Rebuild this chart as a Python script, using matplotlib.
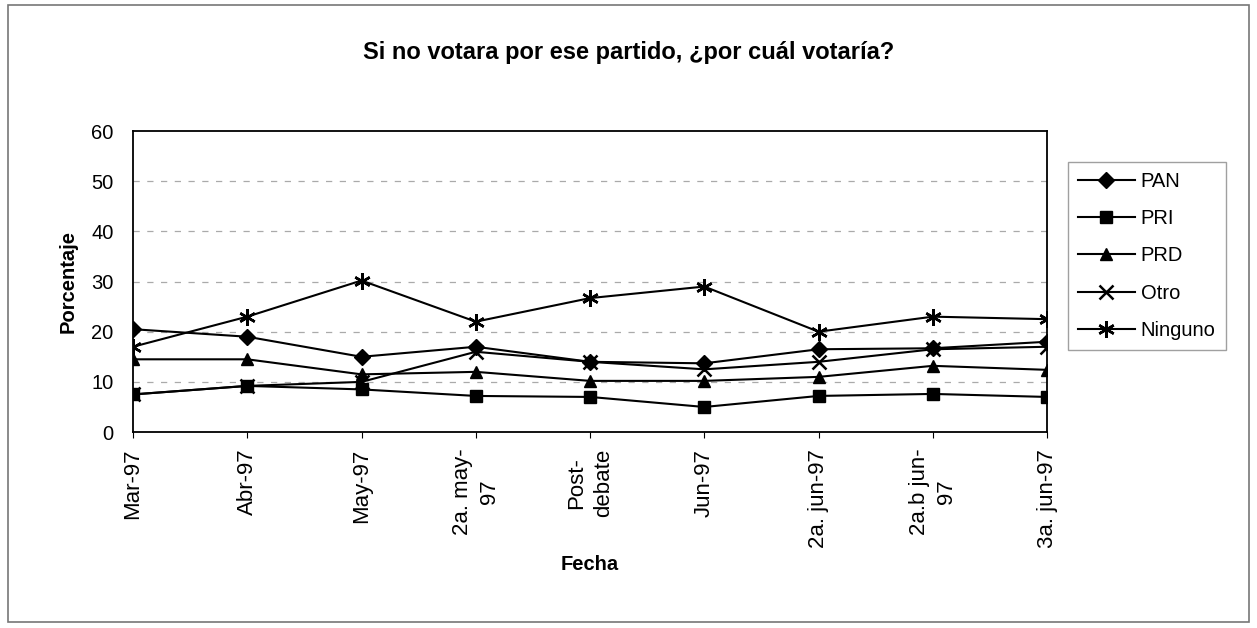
import matplotlib.pyplot as plt
from matplotlib.patches import Rectangle

plt.rcParams['font.family'] = ['Liberation Sans', 'DejaVu Sans']

# Data
fechas = ['Mar-97', 'Abr-97', 'May-97', '2a. may-\n97', 'Post-\ndebate',
          'Jun-97', '2a. jun-97', '2a.b jun-\n97', '3a. jun-97']
pan = [20.5, 19.0, 15.0, 17.0, 14.0, 13.7, 16.5, 16.7, 18.0]
pri = [7.5, 9.2, 8.5, 7.2, 7.0, 5.0, 7.2, 7.6, 7.0]
prd = [14.5, 14.5, 11.5, 12.0, 10.2, 10.2, 11.0, 13.2, 12.4]
otro = [7.5, 9.2, 10.0, 16.0, 14.0, 12.5, 14.0, 16.5, 17.0]
ninguno = [17.0, 23.0, 30.2, 22.0, 26.7, 29.0, 20.0, 23.0, 22.5]

fig = plt.figure(figsize=(12.57, 6.28), dpi=100)
ax = fig.add_axes([0.1058, 0.312, 0.7272, 0.4794])

x = range(len(fechas))
ax.plot(x, pan, color='black', lw=1.5, marker='D', ms=8, label='PAN')
ax.plot(x, pri, color='black', lw=1.5, marker='s', ms=9, label='PRI')
ax.plot(x, prd, color='black', lw=1.5, marker='^', ms=9, label='PRD')
ax.plot(x, otro, color='black', lw=1.5, marker='x', ms=10, mew=1.8, label='Otro')
ax.plot(x, ninguno, color='black', lw=1.5, marker=(6, 2, 0), ms=12, mew=1.8, label='Ninguno')

# dashed grid
for v in [10, 20, 30, 40, 50]:
    ax.axhline(v, color='#aaaaaa', lw=0.9, ls=(0, (5, 6)), zorder=0)

ax.set_xlim(0, len(fechas) - 1)
ax.set_ylim(0, 60)
ax.set_yticks(range(0, 61, 10))
ax.set_xticks(list(x))
ax.set_xticklabels(fechas, rotation=90, va='top', ha='center', fontsize=16)
for lbl in ax.get_xticklabels():
    lbl.set_linespacing(1.35)
ax.tick_params(axis='y', length=0, labelsize=14.5, pad=14)
ax.tick_params(axis='x', length=4, direction='out', pad=8)
for s in ax.spines.values():
    s.set_color('black')
    s.set_linewidth(1.3)

ax.set_ylabel('Porcentaje', fontsize=14.5, fontweight='bold', labelpad=10)
ax.set_xlabel('Fecha', fontsize=14.5, fontweight='bold', labelpad=5)

fig.suptitle('Si no votara por ese partido, ¿por cuál votaría?', fontsize=17,
             fontweight='bold', y=0.935)

leg = ax.legend(loc='upper left', bbox_to_anchor=(1.012, 0.93), fontsize=14.5,
                frameon=True, fancybox=False, handlelength=2.8,
                labelspacing=0.9, borderpad=0.5, handletextpad=0.3)
leg.get_frame().set_edgecolor('#888888')
leg.get_frame().set_linewidth(1.0)

# outer chart border
fig.patches.append(Rectangle((0.006, 0.01), 0.988, 0.982, transform=fig.transFigure,
                             fill=False, edgecolor='#777777', lw=1.2))

fig.savefig('out.png', dpi=100)
